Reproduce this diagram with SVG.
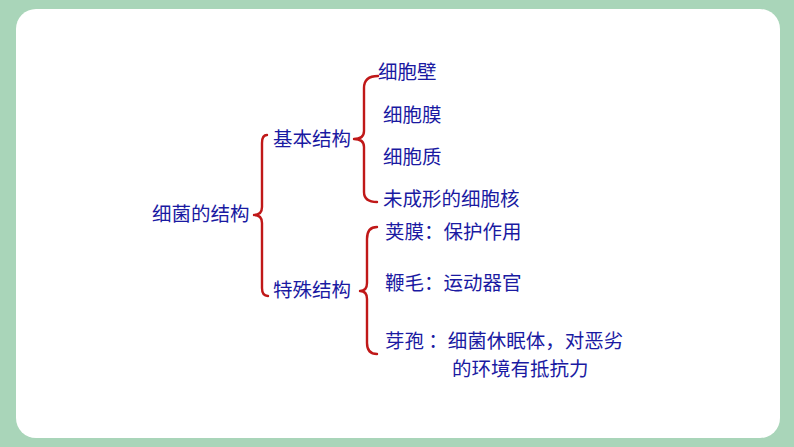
<svg xmlns="http://www.w3.org/2000/svg" width="794" height="447" viewBox="0 0 794 447">
<style>
.t{font-family:"Noto Sans CJK SC","Microsoft YaHei",sans-serif;font-size:19.5px;fill:#1a1aa2}
.b{fill:none;stroke:#c01818;stroke-width:2.4;stroke-linecap:round;stroke-linejoin:round}
</style>
<rect x="0" y="0" width="794" height="447" fill="#a9d5b9"/>
<rect x="16" y="9" width="764" height="429" rx="20" ry="20" fill="#ffffff"/>
<g id="connectors">
<path class="b" d="M267 135 Q262 135 262 143 L262 207 Q262 215 254 215 Q262 215 262 223 L262 288 Q262 296 268 296"/>
<path class="b" d="M378 76 Q364 76 364 88 L364 131 Q364 139 354 139 Q364 139 364 147 L364 192 Q364 202 377 202"/>
<path class="b" d="M377 227 Q367 227 367 239 L367 283 Q367 291 360 291 Q367 291 367 299 L367 343 Q367 354 377 354"/>
</g>
<g id="root"><text class="t" x="152" y="221">细菌的结构</text></g>
<g id="basic"><text class="t" x="273" y="146">基本结构</text></g>
<g id="special"><text class="t" x="273" y="297">特殊结构</text></g>
<g id="wall"><text class="t" x="378" y="79">细胞壁</text></g>
<g id="membrane"><text class="t" x="383" y="122">细胞膜</text></g>
<g id="cytoplasm"><text class="t" x="383" y="164">细胞质</text></g>
<g id="nucleus"><text class="t" x="383" y="206">未成形的细胞核</text></g>
<g id="capsule"><text class="t" x="385" y="239">荚膜：保护作用</text></g>
<g id="flagella"><text class="t" x="385" y="290">鞭毛：运动器官</text></g>
<g id="spore"><text class="t"><tspan x="385" y="348">芽孢 ：细菌休眠体，对恶劣</tspan><tspan x="452" y="376">的环境有抵抗力</tspan></text></g>
</svg>
